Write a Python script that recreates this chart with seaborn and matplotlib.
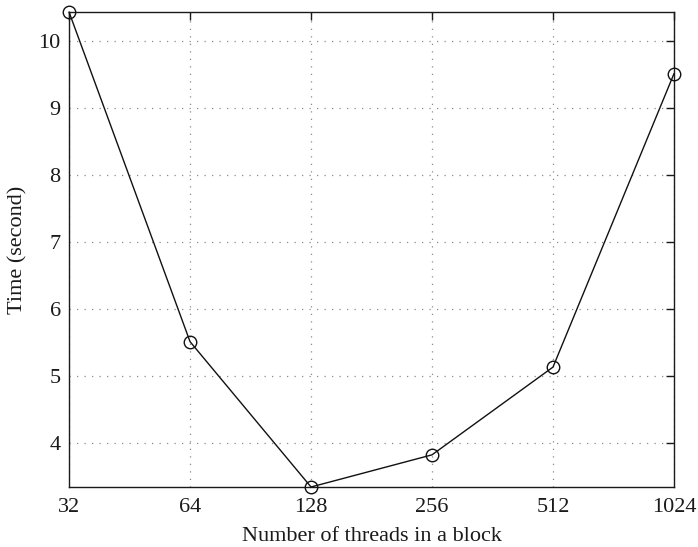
import matplotlib
matplotlib.use("Agg")
import matplotlib.pyplot as plt
import seaborn as sns
import pandas as pd
from matplotlib.ticker import FixedLocator, FixedFormatter, NullLocator

threads = [32, 64, 128, 256, 512, 1024]
times = [10.43, 5.51, 3.34, 3.82, 5.13, 9.51]
y_ticks = [4, 5, 6, 7, 8, 9, 10]

df = pd.DataFrame({"threads": threads, "time": times})

sns.set_style("white")
plt.rcParams["font.family"] = ["Liberation Serif", "DejaVu Serif"]

fig = plt.figure(figsize=(6.98, 5.47), dpi=100)
ax = fig.add_axes([0.0989, 0.1097, 0.8667, 0.8683])

sns.lineplot(data=df, x="threads", y="time", ax=ax, color="#111111",
             linewidth=1.0, marker="o", markersize=9,
             markerfacecolor="none", markeredgecolor="#111111",
             markeredgewidth=1.0, clip_on=False, zorder=5)

ax.set_xscale("log", base=2)
ax.set_xlim(threads[0], threads[-1])
ax.set_ylim(min(times), max(times))
ax.xaxis.set_major_locator(FixedLocator(threads))
ax.xaxis.set_major_formatter(FixedFormatter([str(t) for t in threads]))
ax.xaxis.set_minor_locator(NullLocator())
ax.set_yticks(y_ticks)
ax.set_yticklabels([str(v) for v in y_ticks])

ax.grid(True, which="major", linestyle=(0, (1, 5)), color="#8a8a8a",
        linewidth=0.9)
ax.tick_params(axis="both", which="major", direction="in", length=6,
               width=1.0, labelsize=16, top=True, right=True,
               color="#1a1a1a", labelcolor="#1a1a1a")
ax.tick_params(axis="x", pad=8)
ax.tick_params(axis="y", pad=6)
for spine in ax.spines.values():
    spine.set_visible(True)
    spine.set_color("#1a1a1a")
    spine.set_linewidth(1.0)

ax.set_xlabel("Number of threads in a block", fontsize=16, color="#1a1a1a",
              labelpad=7)
ax.set_ylabel("Time (second)", fontsize=16, color="#1a1a1a", labelpad=8)

fig.savefig("out.png", dpi=100)
